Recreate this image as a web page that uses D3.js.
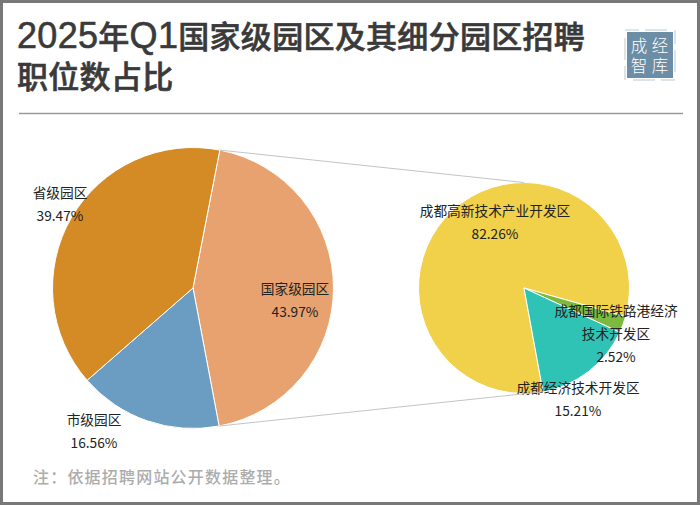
<!DOCTYPE html>
<html>
<head>
<meta charset="utf-8">
<script src="https://cdn.jsdelivr.net/npm/d3@7"></script>
<style>
    html, body { margin: 0; padding: 0; background: #fff; }
    svg { display: block; }
    text { font-family: "Noto Sans CJK SC", "Noto Sans", sans-serif; }
    text.title, text.stamp { font-family: "Liberation Sans", "Noto Sans CJK SC", sans-serif; }
</style>
</head>
<body>
<div id="plot"></div>
<script>
// park levels (left pie)
const parkNames = ['国家级园区', '市级园区', '省级园区'];
const parkValues = [43.97, 16.56, 39.47];
const parkColors = ['#e8a26f', '#6b9cc1', '#d58b25'];

// sub parks of the national level (right pie)
const subNames = [['成都高新技术产业开发区'], ['成都国际铁路港经济', '技术开发区'], ['成都经济技术开发区']];
const subValues = [82.26, 2.52, 15.21];
const subColors = ['#f1d04a', '#7bb93f', '#2ec3b4'];

const titleLines = ['2025年Q1国家级园区及其细分园区招聘', '职位数占比'];
const note = '注：依据招聘网站公开数据整理。';
const stampChars = ['成', '经', '智', '库'];

const width = 700, height = 505;
const svg = d3.select('#plot').append('svg')
    .attr('width', width)
    .attr('height', height);

// outer frame
svg.append('rect')
    .attr('x', 1.5).attr('y', 1.5)
    .attr('width', width - 3).attr('height', height - 3)
    .attr('fill', '#fff')
    .attr('stroke', '#787878')
    .attr('stroke-width', 3);

// title, latin runs are set larger than the chinese ones
svg.selectAll('text.title')
    .data(titleLines)
    .enter().append('text')
    .attr('class', 'title')
    .attr('x', 17)
    .attr('y', (d, i) => 48 + i * 40)
    .attr('fill', '#3a3a3a')
    .attr('stroke', '#3a3a3a')
    .attr('stroke-width', 0.6)
    .attr('font-size', 31)
    .attr('font-weight', 500)
    .attr('letter-spacing', 0.3)
    .selectAll('tspan')
    .data(d => d.match(/[0-9A-Za-z]+|[^0-9A-Za-z]+/g))
    .enter().append('tspan')
    .attr('font-size', d => /[0-9A-Za-z]/.test(d) ? 36 : 31)
    .text(d => d);

// rule under the title
svg.append('line')
    .attr('x1', 19).attr('x2', 683)
    .attr('y1', 113.5).attr('y2', 113.5)
    .attr('stroke', '#9a9a9a')
    .attr('stroke-width', 1.5);

// stamp
const stamp = svg.append('g').attr('transform', 'translate(627,32)');
stamp.append('rect')
    .attr('x', -2).attr('y', -2).attr('width', 50).attr('height', 50)
    .attr('fill', 'none')
    .attr('stroke', '#b9c9d6')
    .attr('stroke-dasharray', '14 6 22 8')
    .attr('stroke-width', 1);
stamp.append('rect')
    .attr('width', 46).attr('height', 46)
    .attr('fill', '#6c8da6');
stamp.selectAll('text')
    .data(stampChars)
    .enter().append('text')
    .attr('class', 'stamp')
    .attr('x', (d, i) => 12 + (i % 2) * 21)
    .attr('y', (d, i) => 20 + Math.floor(i / 2) * 19.5)
    .attr('text-anchor', 'middle')
    .attr('fill', '#fff')
    .attr('font-size', 16.5)
    .attr('font-weight', 300)
    .text(d => d);

// label anchors, relative to the pie centre
const parkLabels = [[102, 12.5], [-99, 144], [-133, -83]];
const subLabels = [[-29, -65], [92, 46], [54, 112]];

function drawPie(cx, cy, radius, startDeg, names, values, colors, labels) {
    let pie = d3.pie().sort(null)
        .startAngle(startDeg * Math.PI / 180)
        .endAngle((startDeg + 360) * Math.PI / 180);
    let arcs = pie(values);
    let arc = d3.arc().innerRadius(0).outerRadius(radius);
    let g = svg.append('g').attr('transform', `translate(${cx},${cy})`);

    g.selectAll('path')
        .data(arcs)
        .enter().append('path')
        .attr('d', arc)
        .attr('fill', (d, i) => colors[i])
        .attr('stroke', '#fff')
        .attr('stroke-width', 1);
    return { g, arcs, labels, names, values };
}

function drawLabels(p) {
    p.arcs.forEach((d, i) => {
        let lines = [].concat(p.names[i], p.values[i].toFixed(2) + '%');
        let total = lines.length;
        p.g.append('text')
            .attr('text-anchor', 'middle')
            .attr('fill', '#222')
            .attr('font-size', 13.7)
            .selectAll('tspan')
            .data(lines)
            .enter().append('tspan')
            .attr('x', p.labels[i][0])
            .attr('y', (l, k) => p.labels[i][1] + (k - (total - 1) / 2) * 23 + 4.5)
            .text(l => l);
    });
}

// point on the rim of a pie at an arc angle
function rim(cx, cy, r, a) {
    return [cx + r * Math.sin(a), cy - r * Math.cos(a)];
}

const left = { cx: 193, cy: 288, r: 140.5 };
const right = { cx: 524, cy: 288, r: 105.5 };

const leftPie = drawPie(left.cx, left.cy, left.r, 11, parkNames, parkValues, parkColors, parkLabels);
const rightPie = drawPie(right.cx, right.cy, right.r, -190.4, subNames, subValues, subColors, subLabels);

// connector lines from the national slice to the right pie
const nat = leftPie.arcs[0];
const connectors = [
    [rim(left.cx, left.cy, left.r, nat.startAngle), rim(right.cx, right.cy, right.r, 0)],
    [rim(left.cx, left.cy, left.r, nat.endAngle), rim(right.cx, right.cy, right.r, rightPie.arcs[0].startAngle + 2 * Math.PI)]
];
svg.selectAll('line.connector')
    .data(connectors)
    .enter().append('line')
    .attr('class', 'connector')
    .attr('x1', d => d[0][0]).attr('y1', d => d[0][1])
    .attr('x2', d => d[1][0]).attr('y2', d => d[1][1])
    .attr('stroke', '#c4c4c4')
    .attr('stroke-width', 1);

drawLabels(leftPie);
drawLabels(rightPie);

// footnote
svg.append('text')
    .attr('x', 33)
    .attr('y', 483)
    .attr('fill', '#acacac')
    .attr('font-size', 16)
    .attr('font-weight', 500)
    .attr('letter-spacing', 1.2)
    .text(note);
</script>
</body>
</html>
